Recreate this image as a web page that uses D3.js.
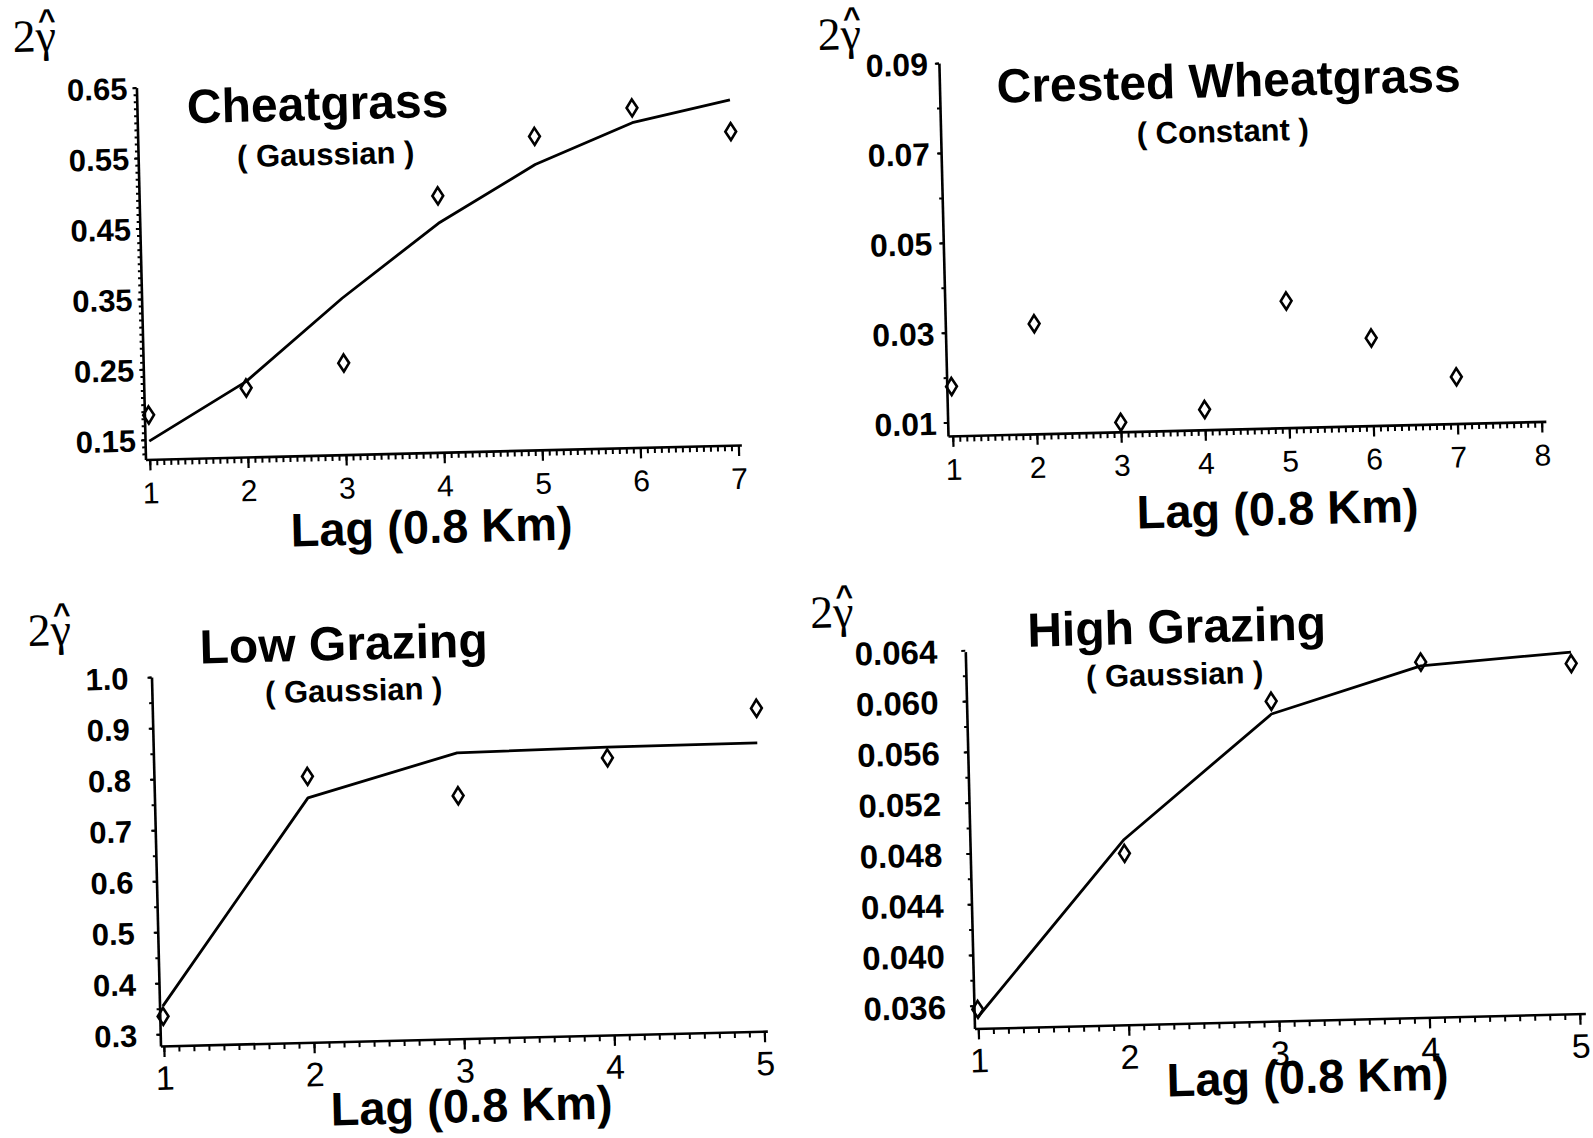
<!DOCTYPE html>
<html>
<head>
<meta charset="utf-8">
<script src="https://cdn.jsdelivr.net/npm/d3@7"></script>
<style>
body { margin: 0; background: #fff; }
svg { display: block; }
</style>
</head>
<body>
<svg id="chart" width="1593" height="1138"></svg>
<script>
// ---- data ----
var cheatLag = [1, 2, 3, 4, 5, 6, 7];
var cheatObs = [0.185, 0.220, 0.252, 0.486, 0.567, 0.604, 0.567];
var cheatFit = [0.148, 0.229, 0.344, 0.447, 0.527, 0.583, 0.612];
var cheatYTicks = [0.15, 0.25, 0.35, 0.45, 0.55, 0.65];
var cheatXTicks = [1, 2, 3, 4, 5, 6, 7];

var crestLag = [1, 2, 3, 4, 5, 6, 7];
var crestObs = [0.018, 0.0315, 0.0091, 0.0115, 0.0352, 0.0265, 0.0174];
var crestYTicks = [0.01, 0.03, 0.05, 0.07, 0.09];
var crestXTicks = [1, 2, 3, 4, 5, 6, 7, 8];

var lowLag = [1, 2, 3, 4, 5];
var lowObs = [0.335, 0.798, 0.753, 0.820, 0.910];
var lowFit = [0.355, 0.756, 0.837, 0.841, 0.842];
var lowYTicks = [0.3, 0.4, 0.5, 0.6, 0.7, 0.8, 0.9, 1.0];
var lowXTicks = [1, 2, 3, 4, 5];

var highLag = [1, 2, 3, 4, 5];
var highObs = [0.0357, 0.0477, 0.0594, 0.0622, 0.0618];
var highFit = [0.0351, 0.0488, 0.0584, 0.0619, 0.0627];
var highYTicks = [0.036, 0.040, 0.044, 0.048, 0.052, 0.056, 0.060, 0.064];
var highXTicks = [1, 2, 3, 4, 5];

var SANS = '"Liberation Sans", Arial, Helvetica, sans-serif';
var SERIF = '"Liberation Serif", "Times New Roman", serif';
var TILT = 1.4; // the scan is turned a little anticlockwise

// layout: screen positions (px) measured on the page, converted to the tilted frame later
var panels = [
    { title: "Cheatgrass", model: "( Gaussian )",
      lags: cheatLag, obs: cheatObs, fit: cheatFit,
      xTicks: cheatXTicks, yTicks: cheatYTicks, yFmt: ".2f",
      origin: [145.5, 459.5], xDomain: [0.957, 7.03], xLen: 596,
      yDomain: [0.122, 0.65], yLen: 372, xMinor: 14, yMinor: 0.01,
      ySize: 31, yGap: 9, xSize: 30,
      titlePos: [318, 120], subPos: [326, 165], labPos: [432, 543], gamPos: [13, 52] },
    { title: "Crested Wheatgrass", model: "( Constant )",
      lags: crestLag, obs: crestObs, fit: null,
      xTicks: crestXTicks, yTicks: crestYTicks, yFmt: ".2f",
      origin: [948, 436], xDomain: [0.944, 8.05], xLen: 598,
      yDomain: [0.007, 0.09], yLen: 373, xMinor: 12, yMinor: 0.01,
      ySize: 32, yGap: 11, xSize: 30,
      titlePos: [1229, 97], subPos: [1223, 142], labPos: [1278, 525], gamPos: [818, 50] },
    { title: "Low Grazing", model: "( Gaussian )",
      lags: lowLag, obs: lowObs, fit: lowFit,
      xTicks: lowXTicks, yTicks: lowYTicks, yFmt: ".1f",
      origin: [160.5, 1046], xDomain: [0.978, 5.02], xLen: 607,
      yDomain: [0.277, 1.0], yLen: 369, xMinor: 10, yMinor: 0.05,
      ySize: 31, yGap: 23, xSize: 34,
      titlePos: [344, 660], subPos: [354, 701], labPos: [472, 1122], gamPos: [28, 646] },
    { title: "High Grazing", model: "( Gaussian )",
      lags: highLag, obs: highObs, fit: highFit,
      xTicks: highXTicks, yTicks: highYTicks, yFmt: ".3f",
      origin: [974.5, 1028.5], xDomain: [0.975, 5.037], xLen: 611,
      yDomain: [0.0342, 0.0639], yLen: 377, xMinor: 10, yMinor: 0.002,
      ySize: 33, yGap: 28, xSize: 34,
      titlePos: [1177, 643], subPos: [1175, 685], labPos: [1308, 1093], gamPos: [810.5, 628] }
];

var svg = d3.select("#chart");
svg.append("rect").attr("width", 1593).attr("height", 1138).attr("fill", "#fff");

// screen point -> coordinates inside a tilted panel group
function toLocal (p, pt) {
    var a = TILT * Math.PI / 180,
        dx = pt[0] - p.origin[0],
        dy = pt[1] - p.origin[1];
    return [dx * Math.cos(a) - dy * Math.sin(a), dx * Math.sin(a) + dy * Math.cos(a)];
}

function minorTicks (lo, hi, step) {
    var out = [];
    var k0 = Math.ceil(lo / step - 1e-6), k1 = Math.floor(hi / step + 1e-6);
    for (var k = k0; k <= k1; k++) out.push(+(k * step).toFixed(6));
    return out;
}

panels.forEach(function (p) {
    var g = svg.append("g")
        .attr("transform", "translate(" + p.origin[0] + "," + p.origin[1] + ") rotate(" + (-TILT) + ")");

    var x = d3.scaleLinear().domain(p.xDomain).range([0, p.xLen]);
    var y = d3.scaleLinear().domain(p.yDomain).range([0, -p.yLen]);

    // x axis: fine ticks, then numbered ticks
    g.append("g")
        .call(d3.axisBottom(x)
            .tickValues(minorTicks(p.xDomain[0], p.xDomain[1], 1 / p.xMinor))
            .tickSize(6).tickSizeOuter(0).tickFormat(""))
        .call(function (s) {
            s.select(".domain").attr("stroke-width", 2.6);
            s.selectAll(".tick line").attr("stroke-width", 2);
        });
    g.append("g")
        .call(d3.axisBottom(x).tickValues(p.xTicks).tickSize(11).tickSizeOuter(0)
            .tickFormat(d3.format("d")))
        .call(function (s) {
            s.select(".domain").remove();
            s.selectAll(".tick line").attr("stroke-width", 2.2);
            s.selectAll(".tick text")
                .attr("y", 44).attr("dy", null)
                .attr("fill", "#000")
                .style("font-family", SANS)
                .style("font-size", p.xSize + "px");
        });

    // y axis
    g.append("g")
        .call(d3.axisLeft(y)
            .tickValues(minorTicks(p.yDomain[0], p.yDomain[1], p.yMinor))
            .tickSize(3).tickSizeOuter(0).tickFormat(""))
        .call(function (s) {
            s.select(".domain").attr("stroke-width", 2.6);
            s.selectAll(".tick line").attr("stroke-width", 2);
        });
    g.append("g")
        .call(d3.axisLeft(y).tickValues(p.yTicks).tickSize(4).tickPadding(p.yGap - 4)
            .tickSizeOuter(0).tickFormat(d3.format(p.yFmt)))
        .call(function (s) {
            s.select(".domain").remove();
            s.selectAll(".tick line").attr("stroke-width", 2);
            s.selectAll(".tick text")
                .attr("dy", "0.36em")
                .attr("fill", "#000")
                .style("font-family", SANS)
                .style("font-weight", "bold")
                .style("font-size", p.ySize + "px");
        });

    // fitted model
    if (p.fit) {
        var line = d3.line()
            .x(function (d, i) { return x(p.lags[i]); })
            .y(function (d) { return y(d); });
        g.append("path")
            .datum(p.fit)
            .attr("d", line)
            .attr("fill", "none")
            .attr("stroke", "#000")
            .attr("stroke-width", 2.8)
            .attr("stroke-linejoin", "round");
    }

    // observed semivariances: open diamonds
    g.selectAll(".pt")
        .data(p.obs)
        .enter().append("path")
            .attr("class", "pt")
            .attr("transform", function (d, i) {
                return "translate(" + x(p.lags[i]) + "," + y(d) + ")";
            })
            .attr("d", "M0,-8.5L5.4,0L0,8.5L-5.4,0Z")
            .attr("fill", "none")
            .attr("stroke", "#000")
            .attr("stroke-width", 2.6);

    // texts
    var t = toLocal(p, p.titlePos);
    g.append("text").attr("x", t[0]).attr("y", t[1])
        .attr("text-anchor", "middle")
        .style("font-family", SANS).style("font-weight", "bold").style("font-size", "48px")
        .text(p.title);
    t = toLocal(p, p.subPos);
    g.append("text").attr("x", t[0]).attr("y", t[1])
        .attr("text-anchor", "middle")
        .style("font-family", SANS).style("font-weight", "bold").style("font-size", "31px")
        .attr("xml:space", "preserve")
        .text(p.model);
    t = toLocal(p, p.labPos);
    g.append("text").attr("x", t[0]).attr("y", t[1])
        .attr("text-anchor", "middle")
        .style("font-family", SANS).style("font-weight", "bold").style("font-size", "47px")
        .text("Lag (0.8 Km)");

    // 2 gamma-hat
    t = toLocal(p, p.gamPos);
    g.append("text").attr("x", t[0]).attr("y", t[1])
        .style("font-family", SERIF).style("font-size", "46px")
        .text("2γ");
    t = toLocal(p, [p.gamPos[0] + 34, p.gamPos[1] - 22]);
    g.append("text").attr("x", t[0]).attr("y", t[1])
        .attr("text-anchor", "middle")
        .style("font-family", SANS).style("font-weight", "bold").style("font-size", "30px")
        .text("^");
});
</script>
</body>
</html>
